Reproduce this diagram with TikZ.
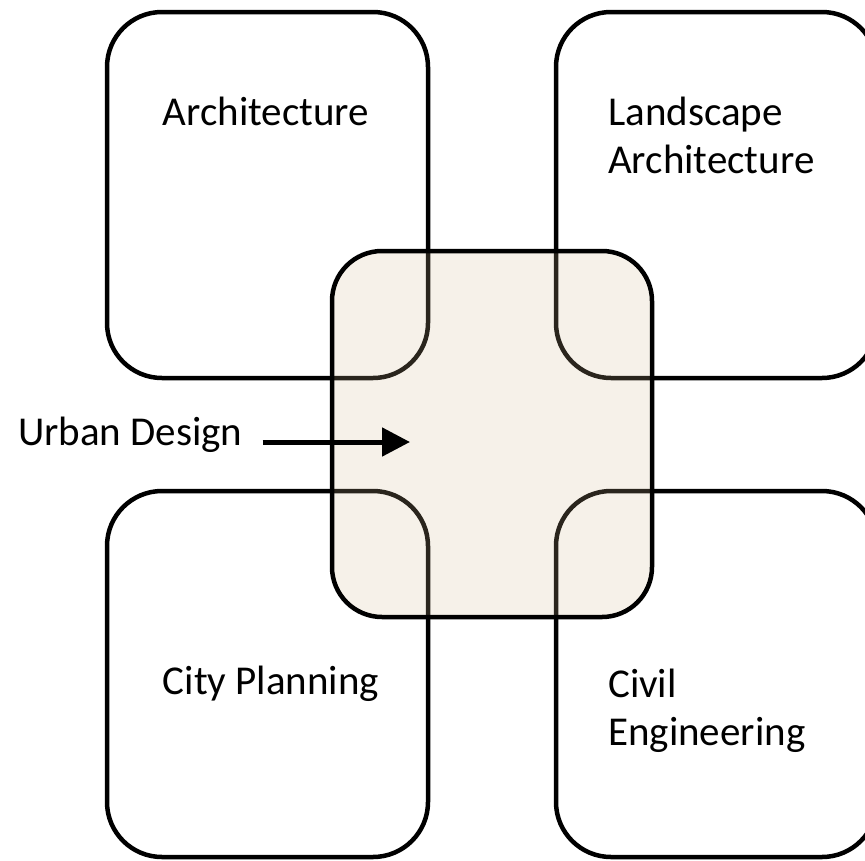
\documentclass[tikz,border=0pt]{standalone}
\usepackage{fontspec}
\setmainfont{Carlito}
\usetikzlibrary{arrows.meta}
\definecolor{cream}{RGB}{210,185,145}
\tikzset{
  field/.style={draw=black, line width=4.5pt, rounded corners=55pt, rectangle,
    minimum width=321pt, minimum height=366pt, inner sep=0pt},
  core/.style={field, rounded corners=50pt, minimum width=320pt, fill=cream, fill opacity=0.2, draw opacity=1},
  label/.style={font=\fontsize{41}{48}\selectfont, inner sep=0pt, align=left},
  pointer/.style={line width=5pt, -{Triangle[length=28pt,width=28pt]}}
}
\begin{document}
\begin{tikzpicture}[x=1pt,y=-1pt]
\useasboundingbox (0,0) rectangle (865,860);
\node[field] (arch) at (267.5,195) {};
\node[field] (land) at (716.5,195) {};
\node[field] (city) at (267.5,674) {};
\node[field] (civil) at (716.5,674) {};
\node[core] (urban) at (492,434) {};
\node[label, anchor=base] (archt) at (266,125) {Architecture};
\node[label, anchor=base west] (landt) at (608,173) {Landscape\\Architecture};
\node[label, anchor=base] (cityt) at (271,694) {City Planning};
\node[label, anchor=base west] (civilt) at (608,745) {Civil\\Engineering};
\node[label, anchor=base west, inner xsep=10pt, outer xsep=10pt] (ud) at (-2,445) {Urban Design};
\coordinate (udtip) at (410,442);
\draw[pointer] ([yshift=3pt]ud.base east) -- (udtip);
\end{tikzpicture}
\end{document}
